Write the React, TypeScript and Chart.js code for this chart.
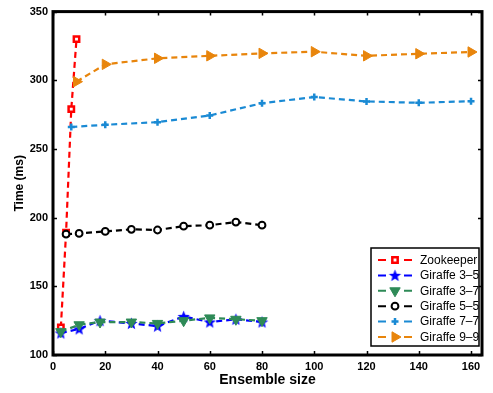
import React, { useEffect, useRef } from 'react';
import { Chart, registerables } from 'chart.js';
import { drawPoint } from 'chart.js/helpers';
Chart.register(...registerables);

// ---- data ----
const zookeeperX = [3, 5, 7, 9];
const zookeeperY = [120, 189, 279, 330];
const giraffe35X = [3, 10, 18, 30, 40, 50, 60, 70, 80];
const giraffe35Y = [116, 119, 125, 123, 121, 128, 124, 126, 124];
const giraffe37X = [3, 10, 18, 30, 40, 50, 60, 70, 80];
const giraffe37Y = [117, 122, 124, 124, 123, 125, 127, 126, 125];
const giraffe55X = [5, 10, 20, 30, 40, 50, 60, 70, 80];
const giraffe55Y = [188, 188.5, 190, 191.5, 191, 193.8, 194.5, 196.8, 194.5];
const giraffe77X = [7, 20, 40, 60, 80, 100, 120, 140, 160];
const giraffe77Y = [266, 267.6, 269.5, 274.4, 283.3, 287.8, 284.6, 283.6, 284.8];
const giraffe99X = [9, 20, 40, 60, 80, 100, 120, 140, 160];
const giraffe99Y = [299, 311.6, 316, 317.8, 319.6, 320.8, 317.8, 319.3, 320.6];

const seriesLabels = ['Zookeeper', 'Giraffe 3–5', 'Giraffe 3–7', 'Giraffe 5–5', 'Giraffe 7–7', 'Giraffe 9–9'];
const xTicks = [0, 20, 40, 60, 80, 100, 120, 140, 160];
const yTicks = [100, 150, 200, 250, 300, 350];

const toPts = (xs: number[], ys: number[]) => xs.map((x, i) => ({ x, y: ys[i] }));

function makeStar(color: string, r: number): HTMLCanvasElement {
  const c = document.createElement('canvas');
  const s = Math.ceil(r * 2 + 2);
  c.width = s;
  c.height = s;
  const ctx = c.getContext('2d')!;
  const cx = s / 2, cy = s / 2 + 0.5;
  ctx.beginPath();
  for (let i = 0; i < 10; i++) {
    const rad = i % 2 === 0 ? r : r * 0.42;
    const a = -Math.PI / 2 + (i * Math.PI) / 5;
    const px = cx + rad * Math.cos(a);
    const py = cy + rad * Math.sin(a);
    if (i === 0) ctx.moveTo(px, py); else ctx.lineTo(px, py);
  }
  ctx.closePath();
  ctx.fillStyle = color;
  ctx.fill();
  return c;
}

const legendPlugin = {
  id: 'matlabLegend',
  afterDraw(chart: any) {
    const { ctx, chartArea } = chart;
    const w = 108, h = 98;
    const x0 = chartArea.right - 3 - w;
    const y0 = chartArea.bottom - 9 - h;
    ctx.save();
    ctx.fillStyle = '#fff';
    ctx.fillRect(x0, y0, w, h);
    ctx.strokeStyle = '#000';
    ctx.lineWidth = 1.5;
    ctx.strokeRect(x0, y0, w, h);
    const dsets = chart.data.datasets;
    ctx.font = '12px "Liberation Sans", Arial, sans-serif';
    ctx.textBaseline = 'middle';
    dsets.forEach((ds: any, i: number) => {
      const cy = y0 + 12 + i * 15.4;
      ctx.strokeStyle = ds.borderColor;
      ctx.lineWidth = 2;
      ctx.beginPath();
      ctx.moveTo(x0 + 7, cy);
      ctx.lineTo(x0 + 15, cy);
      ctx.moveTo(x0 + 33, cy);
      ctx.lineTo(x0 + 41, cy);
      ctx.stroke();
      const opts = {
        pointStyle: ds.pointStyle,
        rotation: ds.pointRotation || 0,
        radius: ds.pointRadius,
        borderWidth: ds.pointBorderWidth,
      };
      ctx.strokeStyle = ds.pointBorderColor;
      ctx.fillStyle = ds.pointBackgroundColor;
      ctx.lineWidth = ds.pointBorderWidth;
      drawPoint(ctx, opts as any, x0 + 24, cy);
      ctx.fillStyle = '#000';
      ctx.textAlign = 'left';
      ctx.fillText(seriesLabels[i], x0 + 49, cy + 0.5);
    });
    ctx.restore();
  },
};

const framePlugin = {
  id: 'matlabFrame',
  afterDatasetsDraw(chart: any) {
    const { ctx, chartArea, scales } = chart;
    const { left, right, top, bottom } = chartArea;
    ctx.save();
    ctx.strokeStyle = '#000';
    ctx.lineWidth = 1.5;
    ctx.beginPath();
    xTicks.forEach((v) => {
      const px = Math.round(scales.x.getPixelForValue(v)) + 0.5;
      ctx.moveTo(px, bottom);
      ctx.lineTo(px, bottom - 4);
      ctx.moveTo(px, top);
      ctx.lineTo(px, top + 4);
    });
    yTicks.forEach((v) => {
      const py = Math.round(scales.y.getPixelForValue(v)) + 0.5;
      ctx.moveTo(left, py);
      ctx.lineTo(left + 4, py);
      ctx.moveTo(right, py);
      ctx.lineTo(right - 4, py);
    });
    ctx.stroke();
    ctx.lineWidth = 3;
    ctx.strokeRect(left, top, right - left, bottom - top);
    ctx.restore();
  },
};

export default function App() {
  const ref = useRef<HTMLCanvasElement>(null);
  useEffect(() => {
    document.body.style.margin = '0';
    const star = makeStar('#0000ff', 6.5);
    const dash = [6, 4];
    const mk = (label: string, data: any[], color: string, extra: any, order: number) => ({
      label,
      data,
      borderColor: color,
      backgroundColor: color,
      borderWidth: 2.2,
      borderDash: dash,
      pointBorderColor: color,
      pointBackgroundColor: color,
      pointBorderWidth: 1,
      pointRadius: 4,
      tension: 0,
      order,
      ...extra,
    });
    const chart = new Chart(ref.current!, {
      type: 'line',
      data: {
        datasets: [
          mk(seriesLabels[0], toPts(zookeeperX, zookeeperY), '#ff0000', { pointStyle: 'rect', pointBackgroundColor: '#ffffff', pointBorderWidth: 2.5, pointRadius: 3.8 }, 6),
          mk(seriesLabels[1], toPts(giraffe35X, giraffe35Y), '#0000ff', { pointStyle: star, pointRadius: 6.5 }, 5),
          mk(seriesLabels[2], toPts(giraffe37X, giraffe37Y), '#2e8a57', { pointStyle: 'triangle', pointRotation: 180, pointRadius: 6 }, 4),
          mk(seriesLabels[3], toPts(giraffe55X, giraffe55Y), '#000000', { pointStyle: 'circle', pointBackgroundColor: '#ffffff', pointBorderWidth: 2, pointRadius: 3.4 }, 3),
          mk(seriesLabels[4], toPts(giraffe77X, giraffe77Y), '#1a8ad4', { pointStyle: 'cross', pointBorderWidth: 2.5, pointRadius: 3.5 }, 2),
          mk(seriesLabels[5], toPts(giraffe99X, giraffe99Y), '#e8850c', { pointStyle: 'triangle', pointRotation: 90, pointRadius: 6 }, 1),
        ],
      },
      options: {
        animation: false,
        responsive: false,
        maintainAspectRatio: false,
        layout: { padding: { left: 0, right: 11, top: 9, bottom: 0 } },
        plugins: { legend: { display: false }, tooltip: { enabled: false }, title: { display: false } },
        scales: {
          x: {
            type: 'linear',
            min: 0,
            max: 164.2,
            afterBuildTicks: (s: any) => { s.ticks = xTicks.map((v) => ({ value: v })); },
            afterFit: (s: any) => { s.height = 38; },
            grid: { display: false, drawTicks: false },
            border: { display: false },
            ticks: {
              padding: 5,
              color: '#000',
              font: { family: '"Liberation Sans", Arial, sans-serif', size: 11, weight: 'bold' },
              maxRotation: 0,
            },
            title: {
              display: true,
              text: 'Ensemble size',
              color: '#000',
              font: { family: '"Liberation Sans", Arial, sans-serif', size: 14, weight: 'bold' },
              padding: { top: 0, bottom: 4 },
            },
          },
          y: {
            type: 'linear',
            min: 100,
            max: 350,
            afterBuildTicks: (s: any) => { s.ticks = yTicks.map((v) => ({ value: v })); },
            afterFit: (s: any) => { s.width = 53; },
            grid: { display: false, drawTicks: false },
            border: { display: false },
            ticks: {
              padding: 5,
              color: '#000',
              font: { family: '"Liberation Sans", Arial, sans-serif', size: 11, weight: 'bold' },
            },
            title: {
              display: true,
              text: 'Time (ms)',
              color: '#000',
              font: { family: '"Liberation Sans", Arial, sans-serif', size: 12, weight: 'bold' },
              padding: { top: 12, bottom: 0 },
            },
          },
        },
      },
      plugins: [framePlugin, legendPlugin],
    } as any);
    return () => chart.destroy();
  }, []);
  return (
    <div style={{ position: 'absolute', left: 0, top: 0, width: 493, height: 393 }}>
      <canvas ref={ref} width={493} height={393} style={{ width: 493, height: 393 }} />
    </div>
  );
}
